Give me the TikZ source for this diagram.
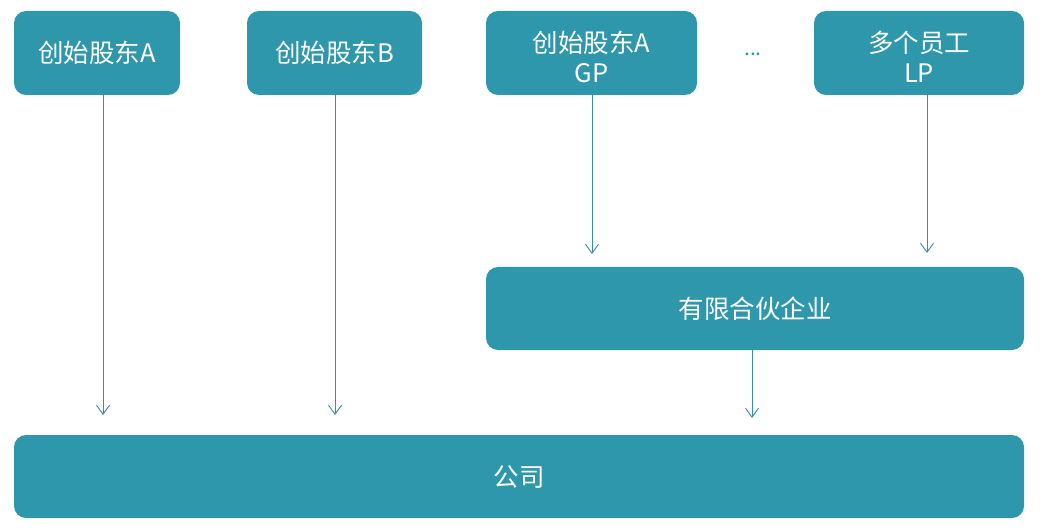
\documentclass[tikz,border=0pt]{standalone}
\usepackage{fontspec}
\setmainfont{Noto Sans CJK SC}
\usetikzlibrary{arrows.meta}
\definecolor{boxteal}{HTML}{2E97AB}
\definecolor{lineteal}{HTML}{3A8EA3}
\newcommand{\twolines}[2]{\raisebox{-8pt}[\height][\depth]{\begin{tabular}{@{}c@{}}#1\\#2\end{tabular}}}
\tikzset{
  box/.style={draw=none, fill=boxteal, rounded corners=12pt, text=white,
    font=\fontsize{25.5}{30}\selectfont, align=center, inner sep=0pt},
  arr/.style={draw=lineteal, line width=0.9pt,
    -{Straight Barb[length=9pt,width=13pt,line width=0.9pt]}}
}
\begin{document}
\begin{tikzpicture}[x=1pt,y=-1pt]
\useasboundingbox (0,0) rectangle (1044,529);
\node[box, minimum width=166pt, minimum height=84pt] (b1) at (97,53) {创始股东A};
\node[box, minimum width=175pt, minimum height=84pt] (b2) at (334.5,53) {创始股东B};
\node[box, minimum width=211pt, minimum height=84pt] (b3) at (591.5,53) {\twolines{创始股东A}{GP}};
\node[text=boxteal, font=\fontsize{21}{22}\selectfont] (dots) at (753,54) {...};
\node[box, minimum width=210pt, minimum height=84pt] (b4) at (919,53) {\twolines{多个员工}{LP}};
\node[box, minimum width=538pt, minimum height=83pt] (lp) at (755,308.5) {有限合伙企业};
\node[box, minimum width=1010pt, minimum height=83pt] (co) at (519,476.5) {公司};
\coordinate (e1) at (103,415);
\coordinate (e2) at (335,415);
\coordinate (e3) at (592,254);
\coordinate (e4) at (927,253);
\coordinate (e5) at (752,418);
\draw[arr] (b1.south -| e1) -- (e1);
\draw[arr] (b2.south -| e2) -- (e2);
\draw[arr] (b3.south -| e3) -- (e3);
\draw[arr] (b4.south -| e4) -- (e4);
\draw[arr] (lp.south -| e5) -- (e5);
\end{tikzpicture}
\end{document}
